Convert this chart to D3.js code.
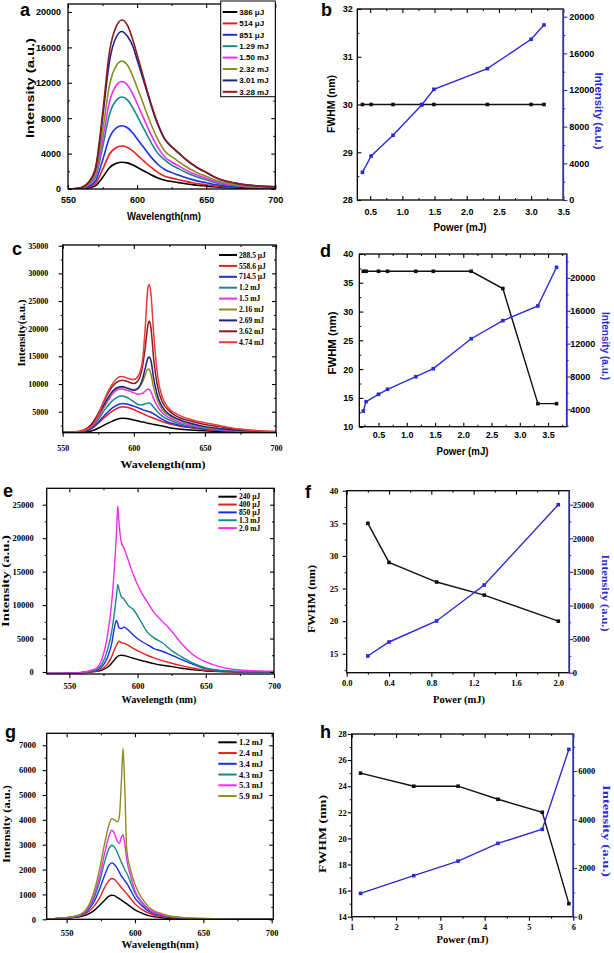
<!DOCTYPE html>
<html>
<head>
<meta charset="utf-8">
<script src="https://cdn.jsdelivr.net/npm/d3@7"></script>
<style>
  body { margin: 0; background: #fff; }
  svg { display: block; background: #fff; }
</style>
</head>
<body>
<svg id="fig" width="614" height="953"></svg>
<script>
// ---------- panel a : spectra ----------
const waveA = [550,555,560,565,570,575,580,585,589,593,597,600,605,610,615,620,625,630,635,640,645,650,655,660,670,680,690,700];
const namesA = ["386 μJ","514 μJ","851 μJ","1.29 mJ","1.50 mJ","2.32 mJ","3.01 mJ","3.28 mJ"];
const a386 = [0,6,30,120,380,1300,2400,2900,3030,2950,2700,2460,2030,1610,1250,990,840,720,600,490,400,330,250,190,120,80,55,40];
const a514 = [0,10,49,200,630,2180,3930,4680,4850,4690,4270,3860,3150,2460,1880,1450,1230,1040,860,710,580,480,370,280,180,115,80,60];
const a851 = [0,14,72,300,930,3220,5790,6900,7150,6920,6290,5680,4650,3630,2800,2200,1850,1570,1300,1060,860,710,540,410,260,170,120,90];
const a129 = [0,21,104,440,1350,4680,8420,10040,10400,10070,9150,8270,6760,5280,4030,3300,2700,2300,1900,1560,1260,1040,790,600,390,250,180,135];
const a150 = [0,24,120,510,1580,5470,9840,11720,12150,11760,10690,9660,7900,6170,4700,3620,3050,2610,2160,1790,1460,1215,920,700,450,290,210,160];
const a232 = [0,29,145,600,1900,6500,11700,13950,14450,14000,12700,11500,9400,7350,5600,4300,3650,3100,2570,2120,1730,1440,1100,840,530,350,250,190];
const a301 = [0,36,180,750,2300,8000,14400,17200,17800,17250,16100,14600,12100,9500,7250,5600,4750,4050,3350,2760,2260,1860,1420,1080,690,440,320,240];
const a328 = [0,40,200,800,2500,8500,15500,18400,19100,18500,16800,15200,12400,9700,7400,5700,4800,4100,3400,2800,2300,1900,1450,1100,700,450,330,250];
const ticksAX = [550,600,650,700];
const ticksAY = [0,4000,8000,12000,16000,20000];

// ---------- panel b : FWHM / intensity ----------
const powerB = [0.38,0.515,0.855,1.3,1.49,2.32,3.0,3.2];
const fwhmB = [30,30,30,30,30,30,30,30];
const peakB = [3020,4800,7060,10370,12080,14330,17530,19100];
const ticksBX = [0.5,1.0,1.5,2.0,2.5,3.0,3.5];
const ticksBL = [28,29,30,31,32];
const ticksBR = [0,4000,8000,12000,16000,20000];

// ---------- panel c : spectra ----------
const waveC = [550,560,565,570,575,580,585,590,592,595,600,603,606,608,610,611,612,614,617,620,625,630,640,650,660,670,680,690,700];
const namesC = ["288.5 μJ","558.6 μJ","714.5 μJ","1.2 mJ","1.5 mJ","2.16 mJ","2.69 mJ","3.62 mJ","4.74 mJ"];
const c2885 = [1200,1200,1300,1500,2000,2700,3300,3750,3800,3750,3500,3300,3150,3050,2900,2850,2800,2700,2550,2400,2100,1900,1700,1550,1450,1350,1300,1250,1250];
const c5586 = [1250,1300,1450,1900,2900,4100,5100,5800,5900,5800,5400,5000,4700,4450,4200,4100,4000,3800,3500,3200,2800,2500,2100,1800,1600,1450,1350,1300,1250];
const c7145 = [1250,1300,1500,2000,3100,4500,5700,6400,6500,6400,6000,5700,5400,5200,5050,5000,4900,4600,4100,3600,3000,2700,2200,1900,1650,1500,1400,1300,1250];
const c12 = [1250,1300,1550,2200,3600,5500,7000,7800,7850,7600,6800,6300,6250,6400,6550,6550,6400,5800,4900,4200,3500,3000,2400,2000,1700,1550,1400,1300,1250];
const c15 = [1250,1300,1600,2400,4000,6200,8200,9100,9100,8900,8400,8150,8300,8700,9050,9000,8600,7300,5800,4800,3900,3300,2600,2100,1800,1600,1450,1350,1300];
const c216 = [1250,1300,1600,2500,4200,6500,8500,9350,9400,9300,9000,9300,10300,11600,12700,12600,11800,9300,6800,5400,4300,3600,2800,2200,1900,1650,1500,1400,1300];
const c269 = [1250,1300,1650,2500,4300,6700,8700,9500,9550,9300,8850,9200,10800,12800,14700,14900,14300,11000,7600,5900,4500,3800,2900,2300,1950,1700,1550,1400,1300];
const c362 = [1300,1350,1700,2700,4700,7400,9600,10600,10700,10500,10100,10600,13000,16500,20800,21400,20300,14500,9200,6800,5100,4200,3300,2700,2300,1900,1700,1500,1400];
const c474 = [1300,1400,1700,2300,4300,7600,10000,11300,11350,11100,10800,11400,14000,20000,27500,28000,26500,19000,11000,7700,5500,4600,3600,3000,2500,2000,1700,1500,1400];
const ticksCX = [550,600,650,700];
const ticksCY = [5000,10000,15000,20000,25000,30000,35000];

// ---------- panel d ----------
const powerD = [0.23,0.28,0.5,0.66,1.16,1.47,2.14,2.7,3.32,3.65];
const fwhmD = [37,37,37,37,37,37,37,34,14,14];
const peakD = [3790,4930,5830,6440,7970,8950,12600,14800,16590,21300];
const ticksDX = [0.5,1.0,1.5,2.0,2.5,3.0,3.5];
const ticksDL = [10,15,20,25,30,35,40];
const ticksDR = [4000,8000,12000,16000,20000];

// ---------- panel e : spectra ----------
const waveE = [533,545,555,560,565,570,574,578,581,583,584.5,585.5,586.5,588,590,593,597,602,607,612,618,625,632,640,650,660,675,690,700];
const namesE = ["240 μJ","400 μJ","850 μJ","1.3 mJ","2.0 mJ"];
const e240 = [-200,-200,-150,-80,0,100,300,700,1300,1800,2150,2350,2450,2500,2450,2300,2050,1750,1500,1250,1000,800,550,350,150,50,0,0,0];
const e400 = [-200,-200,-150,-80,0,150,450,1200,2300,3300,4000,4400,4600,4400,4300,4000,3500,3000,2500,2100,1700,1300,950,600,250,100,20,0,0];
const e850 = [-200,-200,-150,-50,50,250,800,2200,4200,6600,7700,7200,6600,6500,6700,6300,5500,4700,4100,3500,3100,2500,1900,1200,500,200,50,0,0];
const e13 = [-200,-200,-150,-50,100,400,1200,3300,6000,8800,11300,13100,12300,11300,10900,10000,9300,7700,6000,5100,4400,3200,2300,1400,600,250,80,30,0];
const e20 = [-200,-200,-150,0,200,600,2000,5500,10300,15500,20500,24800,22000,19500,18500,16800,14500,12200,10500,8900,7600,6100,4300,2700,1500,800,300,150,100];
const ticksEX = [550,600,650,700];
const ticksEY = [0,5000,10000,15000,20000,25000];

// ---------- panel f ----------
const powerF = [0.2,0.4,0.85,1.3,2.0];
const fwhmF = [35,29,26,24,20];
const peakF = [2490,4570,7700,13050,25000];
const ticksFX = [0.0,0.4,0.8,1.2,1.6,2.0];
const ticksFL = [15,20,25,30,35,40];
const ticksFR = [0,5000,10000,15000,20000,25000];

// ---------- panel g : spectra ----------
const waveG = [535,545,555,560,565,570,574,578,581,583,585,587,588.5,590,591.3,592.5,594,597,600,605,610,620,630,640,660,680,700];
const namesG = ["1.2 mJ","2.4 mJ","3.4 mJ","4.3 mJ","5.3 mJ","5.9 mJ"];
const g12 = [0,30,70,110,190,350,550,780,930,970,950,880,830,770,720,680,620,500,380,250,150,60,25,10,5,0,0];
const g24 = [0,40,90,140,270,520,850,1300,1560,1640,1600,1480,1380,1280,1200,1120,1030,820,620,400,250,100,40,20,10,5,0];
const g34 = [0,40,100,160,330,700,1200,1800,2180,2270,2200,2050,1900,1750,1650,1550,1450,1150,850,550,330,140,60,25,10,5,0];
const g43 = [0,40,100,170,370,850,1500,2350,2850,2980,2900,2700,2500,2300,2150,2000,1850,1450,1050,650,400,170,70,30,15,5,0];
const g53 = [0,40,110,180,400,950,1700,2700,3350,3580,3450,3150,3050,3300,3400,3050,2400,1700,1150,700,420,180,80,40,20,10,0];
const g59 = [0,40,120,200,450,1100,2000,3100,3800,4050,4000,3920,4100,5500,6880,5300,2800,1950,1400,850,500,220,100,50,20,10,0];
const ticksGX = [550,600,650,700];
const ticksGY = [0,1000,2000,3000,4000,5000,6000,7000];

// ---------- panel h ----------
const powerH = [1.2,2.4,3.4,4.3,5.3,5.9];
const fwhmH = [25,24,24,23,22,15];
const peakH = [960,1690,2290,3020,3600,6890];
const ticksHX = [1,2,3,4,5,6];
const ticksHL = [14,16,18,20,22,24,26,28];
const ticksHR = [0,2000,4000,6000];

const SANS = "'Liberation Sans', Arial, sans-serif";
const SERIF = "'Liberation Serif', 'Times New Roman', serif";
const BLUE = "#2b2bd6";
const palette = ["#000000","#e8201c","#1c30e0","#178a86","#f02cf0","#8c8c22","#1a2290","#8b1d1d","#f03a3a"];

const svg = d3.select("#fig");

function addAxis(g, side, scale, at, major, o) {
  const gen = {bottom: d3.axisBottom, top: d3.axisTop, left: d3.axisLeft, right: d3.axisRight}[side];
  const horiz = side === "bottom" || side === "top";
  const tr = horiz ? `translate(0,${at})` : `translate(${at},0)`;
  const size = o.out ? 4 : -4;
  const pad = (o.gap ?? 4) - Math.max(size, 0);
  const fmt = o.labels ? d3.format(o.fmt || "d") : () => "";
  const ga = g.append("g").attr("transform", tr)
    .call(gen(scale).tickValues(major).tickSize(size).tickPadding(pad).tickFormat(fmt));
  ga.select(".domain").remove();
  ga.selectAll(".tick line").attr("stroke", o.color || "#000").attr("stroke-width", 1.1);
  ga.selectAll(".tick text")
    .attr("font-family", o.font).attr("font-size", o.size || 8.5)
    .attr("font-weight", "bold").attr("fill", "#000");

  // minor ticks halfway between the majors
  const step = major[1] - major[0];
  const [lo, hi] = d3.extent(scale.domain());
  const minor = [major[0] - step / 2, ...major.map(m => m + step / 2)].filter(v => v >= lo && v <= hi);
  const gm = g.append("g").attr("transform", tr)
    .call(gen(scale).tickValues(minor).tickSize(size / 2).tickFormat(() => ""));
  gm.select(".domain").remove();
  gm.selectAll(".tick line").attr("stroke", o.color || "#000").attr("stroke-width", 1);
}

function title(g, t, o) {
  const el = g.append("text").text(t.text)
    .attr("transform", `translate(${t.x},${t.y})` + (t.rot ? ` rotate(${t.rot})` : ""))
    .attr("text-anchor", "middle")
    .attr("dy", t.rot ? "0.35em" : 0)
    .attr("font-family", o.font).attr("font-size", o.size || 10.5)
    .attr("font-weight", "bold").attr("fill", t.color || "#000");
  if (t.len) el.attr("textLength", t.len).attr("lengthAdjust", "spacingAndGlyphs");
}

function letter(g, l) {
  g.append("text").text(l.text).attr("x", l.x).attr("y", l.y)
    .attr("font-family", SANS).attr("font-size", 18).attr("font-weight", "bold");
}

function spectrum(p) {
  const g = svg.append("g");
  const x = d3.scaleLinear().domain(p.xd).range([p.x0, p.x1]);
  const y = d3.scaleLinear().domain(p.yd).range([p.y1, p.y0]);
  const clip = "clip-" + p.tag;
  svg.append("clipPath").attr("id", clip).append("rect")
    .attr("x", p.x0).attr("y", p.y0).attr("width", p.x1 - p.x0).attr("height", p.y1 - p.y0);

  const line = d3.line().x(d => x(d[0])).y(d => y(d[1])).curve(d3.curveMonotoneX);
  p.series.forEach((s, i) => {
    g.append("path").datum(d3.zip(p.wave, s))
      .attr("d", line).attr("fill", "none")
      .attr("stroke", p.colors[i]).attr("stroke-width", p.lw)
      .attr("stroke-linejoin", "round")
      .attr("clip-path", `url(#${clip})`);
  });

  g.append("rect").attr("x", p.x0).attr("y", p.y0)
    .attr("width", p.x1 - p.x0).attr("height", p.y1 - p.y0)
    .attr("fill", "none").attr("stroke", "#000").attr("stroke-width", 1.3);

  const base = {font: p.font, size: p.tsize};
  addAxis(g, "bottom", x, p.y1, p.xTicks, {...base, labels: true, out: p.out, gap: p.gapB, fmt: "d"});
  addAxis(g, "top", x, p.y0, p.xTicks, {...base, out: false});
  addAxis(g, "left", y, p.x0, p.yTicks, {...base, labels: true, out: p.out, gap: p.gapL, fmt: "d"});
  addAxis(g, "right", y, p.x1, p.yTicks, {...base, out: false});

  title(g, {...p.yTitle, rot: -90}, {font: p.font, size: 10.5});
  title(g, p.xTitle, {font: p.font, size: 10.5});
  letter(g, p.letter);

  const L = p.legend;
  if (L.box) {
    g.append("rect").attr("x", L.box[0]).attr("y", L.box[1]).attr("width", L.box[2]).attr("height", L.box[3])
      .attr("fill", "#fff").attr("stroke", "#000").attr("stroke-width", 1);
  }
  const rows = g.append("g").selectAll("g").data(p.names).join("g")
    .attr("transform", (d, i) => `translate(0,${L.y + i * L.dy})`);
  rows.append("line").attr("x1", L.x0).attr("x2", L.x1)
    .attr("stroke", (d, i) => p.colors[i]).attr("stroke-width", 2);
  rows.append("text").text(d => d).attr("x", L.tx).attr("dy", "0.35em")
    .attr("font-family", p.font).attr("font-size", L.size).attr("font-weight", "bold");
}

function dual(p) {
  const g = svg.append("g");
  const x = d3.scaleLinear().domain(p.xd).range([p.x0, p.x1]);
  const yl = d3.scaleLinear().domain(p.ld).range([p.y1, p.y0]);
  const yr = d3.scaleLinear().domain(p.rd).range([p.y1, p.y0]);

  const base = {font: p.font, size: p.tsize};
  addAxis(g, "bottom", x, p.y1, p.xTicks, {...base, labels: true, out: p.out, gap: p.gapB, fmt: p.xfmt});
  addAxis(g, "top", x, p.y0, p.xTicks, {...base, out: false});
  addAxis(g, "left", yl, p.x0, p.lTicks, {...base, labels: true, out: p.out, gap: p.gapL, fmt: "d"});
  addAxis(g, "right", yr, p.x1, p.rTicks, {...base, labels: true, out: true, gap: p.gapR, fmt: "d", color: BLUE});

  g.append("rect").attr("x", p.x0).attr("y", p.y0)
    .attr("width", p.x1 - p.x0).attr("height", p.y1 - p.y0)
    .attr("fill", "none").attr("stroke", "#000").attr("stroke-width", 1.3);
  g.append("line").attr("x1", p.x1).attr("x2", p.x1).attr("y1", p.y0).attr("y2", p.y1)
    .attr("stroke", BLUE).attr("stroke-width", 1.6);

  const sets = [
    {ys: p.fwhm, sc: yl, color: "#111"},
    {ys: p.peak, sc: yr, color: BLUE}
  ];
  sets.forEach(s => {
    const pts = d3.zip(p.power, s.ys);
    g.append("path").datum(pts)
      .attr("d", d3.line().x(d => x(d[0])).y(d => s.sc(d[1])))
      .attr("fill", "none").attr("stroke", s.color).attr("stroke-width", 1.4);
    g.append("g").selectAll("rect").data(pts).join("rect")
      .attr("x", d => x(d[0]) - 1.8).attr("y", d => s.sc(d[1]) - 1.8)
      .attr("width", 3.6).attr("height", 3.6).attr("fill", s.color);
  });

  title(g, {...p.lTitle, rot: -90}, {font: p.font, size: 10.5});
  title(g, {...p.rTitle, rot: 90, color: BLUE}, {font: p.font, size: 10.5});
  title(g, p.xTitle, {font: p.font, size: 10.5});
  letter(g, p.letter);
}

// ---------- draw ----------
spectrum({
  tag: "a", x0: 68, x1: 275.3, y0: 4, y1: 189, xd: [550, 700], yd: [0, 20900],
  wave: waveA, series: [a386, a514, a851, a129, a150, a232, a301, a328], names: namesA,
  colors: ["#000000","#e8201c","#1c30e0","#178a86","#f02cf0","#8c8c22","#1a2290","#8b1d1d"],
  xTicks: ticksAX, yTicks: ticksAY, font: SANS, tsize: 9, out: false, gapB: 8, gapL: 7, lw: 1.6,
  yTitle: {text: "Intensity (a.u.)", x: 30, y: 88, len: 100},
  xTitle: {text: "Wavelength(nm)", x: 164, y: 220, len: 74},
  letter: {text: "a", x: 20, y: 16},
  legend: {x0: 222.7, x1: 237.3, tx: 239.3, y: 12, dy: 11.4, size: 8, box: [220.7, 1, 54.6, 95.7]}
});

dual({
  tag: "b", x0: 357.3, x1: 563.3, y0: 9, y1: 200, xd: [0.3, 3.5], ld: [28, 32], rd: [0, 20840],
  power: powerB, fwhm: fwhmB, peak: peakB, xTicks: ticksBX, lTicks: ticksBL, rTicks: ticksBR, xfmt: ".1f",
  font: SANS, tsize: 9, out: false, gapB: 8.7, gapL: 4.6, gapR: 6,
  lTitle: {text: "FWHM (nm)", x: 331.5, y: 104, len: 58},
  rTitle: {text: "Intensity (a.u.)", x: 599, y: 111, len: 77},
  xTitle: {text: "Power (mJ)", x: 460, y: 231, len: 53},
  letter: {text: "b", x: 321, y: 16}
});

spectrum({
  tag: "c", x0: 62.7, x1: 276, y0: 245, y1: 432.7, xd: [550, 700], yd: [1200, 35130],
  wave: waveC, series: [c2885, c5586, c7145, c12, c15, c216, c269, c362, c474], names: namesC,
  colors: palette, xTicks: ticksCX, yTicks: ticksCY, font: SERIF, tsize: 8, out: true, gapB: 12.5, gapL: 14.4, lw: 1.5,
  yTitle: {text: "Intensity(a.u.)", x: 21, y: 333, len: 67},
  xTitle: {text: "Wavelength(nm)", x: 163, y: 468, len: 85},
  letter: {text: "c", x: 12, y: 255},
  legend: {x0: 219, x1: 237, tx: 239, y: 255, dy: 10.9, size: 7.5}
});

dual({
  tag: "d", x0: 359.3, x1: 566.7, y0: 254, y1: 426.7, xd: [0.16, 3.83], ld: [10, 40], rd: [1880, 22920],
  power: powerD, fwhm: fwhmD, peak: peakD, xTicks: ticksDX, lTicks: ticksDL, rTicks: ticksDR, xfmt: ".1f",
  font: SANS, tsize: 9, out: false, gapB: 4.5, gapL: 6, gapR: 3.5,
  lTitle: {text: "FWHM (nm)", x: 332, y: 343, len: 63},
  rTitle: {text: "Intensity (a.u.)", x: 605.5, y: 346, len: 68},
  xTitle: {text: "Power (mJ)", x: 462.5, y: 455, len: 52},
  letter: {text: "d", x: 320, y: 256.5}
});

spectrum({
  tag: "e", x0: 46.7, x1: 274, y0: 488.3, y1: 674, xd: [533.4, 700], yd: [-300, 27450],
  wave: waveE, series: [e240, e400, e850, e13, e20], names: namesE,
  colors: palette, xTicks: ticksEX, yTicks: ticksEY, font: SERIF, tsize: 8.5, out: true, gapB: 9, gapL: 13, lw: 1.4,
  yTitle: {text: "Intensity (a.u.)", x: 5.5, y: 581, len: 92},
  xTitle: {text: "Wavelength (nm)", x: 159, y: 703, len: 75},
  letter: {text: "e", x: 3, y: 496.5},
  legend: {x0: 218.3, x1: 236.7, tx: 239, y: 496.7, dy: 7.85, size: 7.5}
});

dual({
  tag: "f", x0: 346.7, x1: 569.3, y0: 490.7, y1: 672.7, xd: [0, 2.104], ld: [12.1, 40], rd: [0, 27080],
  power: powerF, fwhm: fwhmF, peak: peakF, xTicks: ticksFX, lTicks: ticksFL, rTicks: ticksFR, xfmt: ".1f",
  font: SERIF, tsize: 8.5, out: true, gapB: 7.6, gapL: 8.4, gapR: 3.5,
  lTitle: {text: "FWHM (nm)", x: 311, y: 599, len: 68},
  rTitle: {text: "Intensity (a.u.)", x: 606, y: 593, len: 77},
  xTitle: {text: "Power (mJ)", x: 459, y: 703, len: 52},
  letter: {text: "f", x: 305, y: 498}
});

spectrum({
  tag: "g", x0: 46.7, x1: 273.3, y0: 733.3, y1: 919.3, xd: [535.4, 701.2], yd: [0, 7480],
  wave: waveG, series: [g12, g24, g34, g43, g53, g59], names: namesG,
  colors: palette, xTicks: ticksGX, yTicks: ticksGY, font: SERIF, tsize: 8.5, out: true, gapB: 10.4, gapL: 10.7, lw: 1.4,
  yTitle: {text: "Intensity (a.u.)", x: 6, y: 824, len: 78},
  xTitle: {text: "Wavelength(nm)", x: 160, y: 948, len: 77},
  letter: {text: "g", x: 5, y: 738},
  legend: {x0: 218.3, x1: 236.7, tx: 239, y: 742.3, dy: 10.75, size: 8.5}
});

dual({
  tag: "h", x0: 351.7, x1: 573.3, y0: 734, y1: 916.7, xd: [1, 6], ld: [14, 28], rd: [0, 7524],
  power: powerH, fwhm: fwhmH, peak: peakH, xTicks: ticksHX, lTicks: ticksHL, rTicks: ticksHR, xfmt: "d",
  font: SERIF, tsize: 8.5, out: true, gapB: 7, gapL: 5, gapR: 5,
  lTitle: {text: "FWHM (nm)", x: 322, y: 834, len: 78},
  rTitle: {text: "Intensity (a.u.)", x: 607, y: 831, len: 92},
  xTitle: {text: "Power (mJ)", x: 462.5, y: 943, len: 52},
  letter: {text: "h", x: 320, y: 738}
});
</script>
</body>
</html>
